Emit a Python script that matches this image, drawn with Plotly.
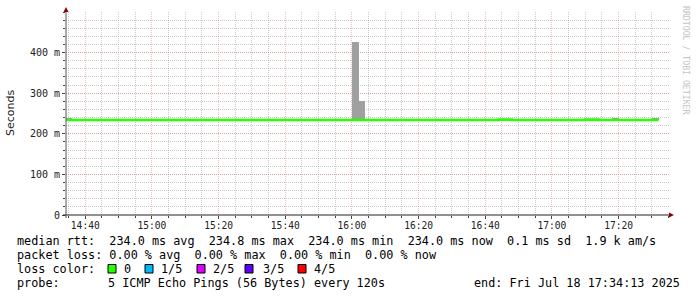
import plotly.graph_objects as go
import pandas as pd

# ---------------- data ----------------
bin_start = "2025-07-18 14:34:00"      # first 2-minute RRD bin
step_minutes = 2
view_start = "2025-07-18 14:34:13"
view_end = "2025-07-18 17:35:07"

# median rtt per 2-minute bin (seconds)
median_rtt = [
    0.234, 0.234, 0.234, 0.234, 0.234, 0.234, 0.234, 0.234, 0.234, 0.234,
    0.234, 0.234, 0.234, 0.234, 0.234, 0.234, 0.234, 0.234, 0.234, 0.234,
    0.234, 0.234, 0.234, 0.234, 0.234, 0.234, 0.234, 0.234, 0.234, 0.234,
    0.234, 0.234, 0.234, 0.234, 0.234, 0.234, 0.234, 0.234, 0.234, 0.234,
    0.234, 0.234, 0.234, 0.234, 0.234, 0.234, 0.234, 0.234, 0.234, 0.234,
    0.234, 0.234, 0.234, 0.234, 0.234, 0.234, 0.234, 0.234, 0.234, 0.234,
    0.234, 0.234, 0.234, 0.234, 0.234, 0.2348, 0.2348, 0.234, 0.234, 0.234,
    0.234, 0.234, 0.234, 0.234, 0.234, 0.234, 0.234, 0.234, 0.2348, 0.2348,
    0.234, 0.234, 0.234, 0.234, 0.234, 0.234, 0.234, 0.234, 0.234,
]
# smoke (spread of the 5 pings) per bin: min and max (seconds)
smoke_min = [
    0.234, 0.234, 0.234, 0.234, 0.234, 0.234, 0.234, 0.234, 0.234, 0.234,
    0.234, 0.234, 0.234, 0.234, 0.234, 0.234, 0.234, 0.234, 0.234, 0.234,
    0.234, 0.234, 0.234, 0.234, 0.234, 0.234, 0.234, 0.234, 0.234, 0.234,
    0.234, 0.234, 0.234, 0.234, 0.234, 0.234, 0.234, 0.234, 0.234, 0.234,
    0.234, 0.234, 0.234, 0.234, 0.234, 0.234, 0.234, 0.234, 0.234, 0.234,
    0.234, 0.234, 0.234, 0.234, 0.234, 0.234, 0.234, 0.234, 0.234, 0.234,
    0.234, 0.234, 0.234, 0.234, 0.234, 0.234, 0.234, 0.234, 0.234, 0.234,
    0.234, 0.234, 0.234, 0.234, 0.234, 0.234, 0.234, 0.234, 0.234, 0.234,
    0.234, 0.234, 0.234, 0.234, 0.234, 0.234, 0.234, 0.234, 0.234,
]
smoke_max = [
    0.238, 0.234, 0.234, 0.234, 0.234, 0.234, 0.234, 0.234, 0.234, 0.234,
    0.234, 0.234, 0.234, 0.234, 0.234, 0.234, 0.234, 0.234, 0.234, 0.234,
    0.234, 0.234, 0.234, 0.234, 0.234, 0.234, 0.234, 0.234, 0.234, 0.234,
    0.234, 0.234, 0.234, 0.234, 0.234, 0.234, 0.234, 0.234, 0.234, 0.234,
    0.234, 0.234, 0.234, 0.426, 0.281, 0.234, 0.234, 0.234, 0.234, 0.234,
    0.234, 0.234, 0.234, 0.234, 0.234, 0.234, 0.234, 0.234, 0.234, 0.234,
    0.234, 0.234, 0.234, 0.234, 0.234, 0.234, 0.234, 0.234, 0.234, 0.234,
    0.234, 0.234, 0.234, 0.234, 0.234, 0.234, 0.234, 0.234, 0.234, 0.234,
    0.234, 0.234, 0.238, 0.234, 0.234, 0.234, 0.234, 0.234, 0.238,
]

y_tickvals = [0, 0.1, 0.2, 0.3, 0.4]
y_ticktext = ["0", "100 m", "200 m", "300 m", "400 m"]

legend_rtt = "median rtt:  234.0 ms avg  234.8 ms max  234.0 ms min  234.0 ms now  0.1 ms sd  1.9 k am/s"
legend_loss = "packet loss: 0.00 % avg  0.00 % max  0.00 % min  0.00 % now"
loss_label = "loss color:"
loss_names = ["0", "1/5", "2/5", "3/5", "4/5"]
loss_colors = ["#26ff00", "#00b8ff", "#dd00ff", "#5e00ff", "#ff0000"]
probe_label = "probe:"
probe_text = "5 ICMP Echo Pings (56 Bytes) every 120s"
end_text = "end: Fri Jul 18 17:34:13 2025"
watermark = "RRDTOOL / TOBI OETIKER"

# ---------------- geometry helpers ----------------
W, H = 697, 297
L, R, T, B = 66, 669, 12, 215   # plot area in pixels


def px(x):
    return (x - L) / (R - L)


def py(y):
    return (B - y) / (B - T)


MONO = "DejaVu Sans Mono"

# ---------------- traces ----------------
starts = pd.date_range(bin_start, periods=len(median_rtt), freq=f"{step_minutes}min")
centers = starts + pd.Timedelta(minutes=step_minutes / 2)
bin_ms = step_minutes * 60 * 1000

fig = go.Figure()
fig.add_trace(go.Bar(
    x=centers, y=[mx - mn for mx, mn in zip(smoke_max, smoke_min)], base=smoke_min,
    width=[bin_ms] * len(centers), marker=dict(color="#a0a0a0", line=dict(width=0)),
    hoverinfo="skip", showlegend=False,
))
line_x = list(starts) + [starts[-1] + pd.Timedelta(minutes=step_minutes)]
line_y = list(median_rtt) + [median_rtt[-1]]
fig.add_trace(go.Scatter(
    x=line_x, y=line_y, mode="lines", line=dict(color="#26ff00", width=2.6, shape="hv"),
    hoverinfo="skip", showlegend=False,
))

major_grid = "rgba(235,120,120,0.5)"
minor_grid = "rgba(150,150,150,0.5)"

fig.update_layout(
    width=W, height=H,
    margin=dict(l=L, r=W - R, t=T, b=H - B, pad=0),
    paper_bgcolor="white", plot_bgcolor="white",
    bargap=0,
    showlegend=False,
    font=dict(family=MONO, size=10, color="#222"),
    xaxis=dict(
        type="date", range=[view_start, view_end],
        tick0="2025-07-18 14:40:00", dtick=20 * 60 * 1000, tickformat="%H:%M",
        showgrid=True, gridcolor=major_grid, griddash="1px,1px", gridwidth=1,
        ticks="outside", ticklen=3, tickcolor="#444",
        tickfont=dict(family=MONO, size=9.6, color="#222"),
        ticklabelstandoff=-2,
        showline=False, zeroline=False,
        minor=dict(dtick=5 * 60 * 1000, tick0="2025-07-18 14:40:00", showgrid=True,
                   gridcolor=minor_grid, griddash="1px,1px", gridwidth=1,
                   ticks="outside", ticklen=2, tickcolor="#444"),
    ),
    yaxis=dict(
        range=[0, 0.5], tickmode="array", tickvals=y_tickvals, ticktext=y_ticktext,
        showgrid=True, gridcolor=major_grid, griddash="1px,1px", gridwidth=1,
        ticks="outside", ticklen=3, tickcolor="#444",
        tickfont=dict(family=MONO, size=10, color="#222"),
        showline=False, zeroline=False,
        minor=dict(tickmode="linear", tick0=0, dtick=0.02, showgrid=True,
                   gridcolor=minor_grid, griddash="1px,1px", gridwidth=1,
                   ticks="outside", ticklen=2, tickcolor="#444"),
    ),
)

# axis lines with arrows
shapes = [
    dict(type="line", xref="paper", yref="paper", x0=px(66), x1=px(66), y0=py(218), y1=py(10),
         line=dict(color="#555", width=1)),
    dict(type="line", xref="paper", yref="paper", x0=px(63), x1=px(670), y0=py(215), y1=py(215),
         line=dict(color="#222", width=1)),
    dict(type="path", xref="paper", yref="paper",
         path=f"M {px(63.5)} {py(12)} L {px(68.5)} {py(12)} L {px(66)} {py(7)} Z",
         fillcolor="#8b0000", line=dict(color="#8b0000", width=0)),
    dict(type="path", xref="paper", yref="paper",
         path=f"M {px(669)} {py(212.5)} L {px(669)} {py(217.5)} L {px(674)} {py(215)} Z",
         fillcolor="#8b0000", line=dict(color="#8b0000", width=0)),
]

annotations = []


def text(x, y, s, size=11.8, color="#000", xanchor="left", family=MONO, angle=0):
    annotations.append(dict(
        x=px(x), y=py(y), xref="paper", yref="paper", text=s.replace(" ", "\u00a0"),
        showarrow=False, xanchor=xanchor, yanchor="middle", textangle=angle,
        font=dict(family=family, size=size, color=color), borderpad=0,
    ))


# y-axis title and watermark
text(11, 113, "Seconds", size=11, color="#222", xanchor="center", family="DejaVu Sans", angle=-90)
text(686, 60, watermark, size=8.2, color="#c4c4c4", xanchor="center", angle=90)

# legend rows
text(16, 241, legend_rtt)
text(16, 255, legend_loss)
text(16, 269, loss_label)
box_x = [108, 145, 197, 245, 298]
name_x = [123, 160, 212, 262, 313]
for bx, nx, nm, col in zip(box_x, name_x, loss_names, loss_colors):
    shapes.append(dict(type="rect", xref="paper", yref="paper",
                       x0=px(bx), x1=px(bx + 8), y0=py(273), y1=py(264.5),
                       fillcolor=col, line=dict(color="#000", width=1)))
    text(nx, 269, nm)
text(16, 283, probe_label)
text(107, 283, probe_text)
text(681, 283, end_text, xanchor="right")

fig.update_layout(shapes=shapes, annotations=annotations)

fig.write_html("out.html", config={"displayModeBar": False})
